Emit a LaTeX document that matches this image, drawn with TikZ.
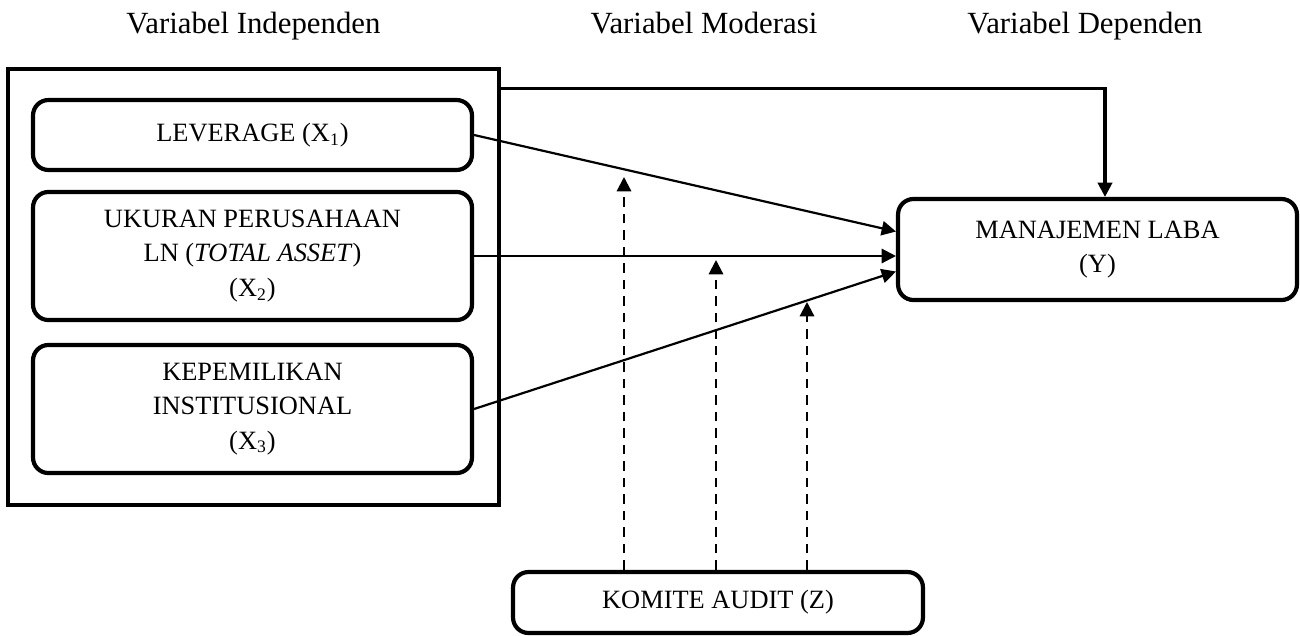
\documentclass[tikz,border=0pt]{standalone}
\usepackage{fontspec}
\setmainfont{Liberation Serif}
\usetikzlibrary{arrows.meta,calc,positioning}

\begin{document}
\begin{tikzpicture}[x=0.4545pt,y=-0.4545pt,
                    every node/.style={font=\fontsize{12}{15.5}\selectfont},
                    head/.style={font=\fontsize{14}{17}\selectfont,anchor=base},
                    var box/.style={draw,rounded corners=7pt,line width=1.9pt,align=center,inner sep=0pt},
                    link/.style={line width=1pt,-{Triangle[length=6.5pt,width=6.5pt]}},
                    moderate/.style={link,dash pattern=on 4.5pt off 3pt}]

    \useasboundingbox (0,0) rectangle (1300,635);

    % Define headings
    \node[head] (hindep) at (253.5,33) {Variabel Independen};
    \node[head] (hmod) at (704,33) {Variabel Moderasi};
    \node[head] (hdep) at (1085,33) {Variabel Dependen};

    % Define vertices
    \node[draw,line width=1.5pt,inner sep=0pt,minimum width=223.2pt,minimum height=198.2pt] (indep) at (253.5,287) {};
    \node[var box,minimum width=199.5pt,minimum height=31.8pt] (X1) at (252.5,135) {LEVERAGE (X\textsubscript{1})};
    \node[var box,minimum width=199.5pt,minimum height=58.2pt] (X2) at (252.5,256) {UKURAN PERUSAHAAN\\LN (\textit{TOTAL ASSET})\\(X\textsubscript{2})};
    \node[var box,minimum width=199.5pt,minimum height=58.2pt] (X3) at (252.5,409) {KEPEMILIKAN\\INSTITUSIONAL\\(X\textsubscript{3})};
    \node[var box,minimum width=181.3pt,minimum height=45.9pt] (Y) at (1097.5,249.5) {MANAJEMEN LABA\\(Y)};
    \node[var box,minimum width=186.3pt,minimum height=27.7pt] (Z) at (718,602.5) {KOMITE AUDIT (Z)};

    % Moderation targets
    \coordinate (m1) at (624,177);
    \coordinate (m2) at (716,260);
    \coordinate (m3) at (807,302);

    % Define edges
    \draw[link,line width=1.4pt] ($(indep.north east)+(0,21)$) -| ($(Y.north)+(7.5,0)$);
    \draw[link] (X1.east) -- ($(Y.west)+(0,-18)$);
    \draw[link] (X2.east) -- (X2.east -| Y.west);
    \draw[link] (X3.east) -- ($(Y.west)+(0,22)$);
    \draw[moderate] (m1 |- Z.north) -- (m1);
    \draw[moderate] (m2 |- Z.north) -- (m2);
    \draw[moderate] (m3 |- Z.north) -- (m3);

\end{tikzpicture}
\end{document}
